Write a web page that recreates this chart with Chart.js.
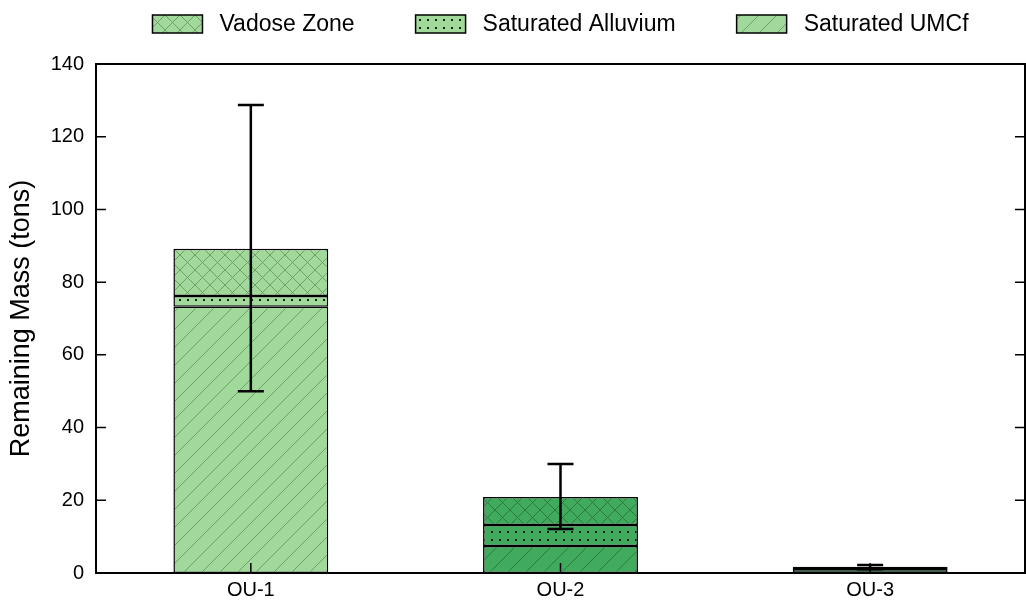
<!DOCTYPE html>
<html>
<head>
<meta charset="utf-8">
<script src="https://cdn.jsdelivr.net/npm/chart.js@4"></script>
<style>
    html, body { margin: 0; padding: 0; background: #fff; }
</style>
</head>
<body>
<canvas id="myChart" width="1026" height="600"></canvas>
<script>
// data
const categories = ['OU-1', 'OU-2', 'OU-3'];
const seriesNames = ['Vadose Zone', 'Saturated Alluvium', 'Saturated UMCf'];
const vadoseZone = [13.0, 7.7, 0.3];
const saturatedAlluvium = [3.0, 5.8, 0.3];
const saturatedUmcf = [73.2, 7.4, 1.1];
const errorLow = [50.0, 12.1, 1.0];
const errorHigh = [128.7, 30.0, 2.2];
const yTickValues = [0, 20, 40, 60, 80, 100, 120, 140];

const FONT = '"Liberation Sans", Arial, sans-serif';

// fill colour and hatch colour per bar
const barColors = ['#a1d99b', '#41ab5d', '#00441b'];
const hatchColors = ['#6f9f6b', '#2b7a42', '#00441b'];

/**
 * ハッチングのパターンを作ります。
 */
const makePattern = (base, line, kind) => {
    const size = kind === 'dots' ? 8 : (kind === 'cross' ? 15 : 18);
    const c = document.createElement('canvas');
    c.width = size;
    c.height = size;
    const g = c.getContext('2d');
    g.fillStyle = base;
    g.fillRect(0, 0, size, size);
    g.strokeStyle = line;
    g.lineWidth = 1;
    if (kind === 'diag' || kind === 'cross') {
        [-size, 0, size].forEach((off) => {
            g.beginPath();
            g.moveTo(off, size);
            g.lineTo(off + size, 0);
            g.stroke();
        });
    }
    if (kind === 'cross') {
        [-size, 0, size].forEach((off) => {
            g.beginPath();
            g.moveTo(off, 0);
            g.lineTo(off + size, size);
            g.stroke();
        });
    }
    if (kind === 'dots') {
        g.fillStyle = 'rgba(0,0,0,0.85)';
        g.fillRect(3, 3, 2, 2);
    }
    return g.createPattern(c, 'repeat');
};

const patternsFor = (kind) => barColors.map((col, i) => makePattern(col, hatchColors[i], kind));

const seriesKinds = ['cross', 'dots', 'diag'];
const seriesValues = [vadoseZone, saturatedAlluvium, saturatedUmcf];

// bottom of the stack first
const datasets = [2, 1, 0].map((i) => ({
    label: seriesNames[i],
    data: seriesValues[i],
    backgroundColor: patternsFor(seriesKinds[i]),
    borderColor: '#000',
    borderWidth: 1.5,
    borderSkipped: false,
}));

const framePlugin = {
    id: 'frame',
    afterDatasetsDraw(chart) {
        const ctx = chart.ctx;
        const x = chart.scales.x;
        const y = chart.scales.y;
        const area = chart.chartArea;
        ctx.save();
        // error bars
        ctx.strokeStyle = '#000';
        ctx.lineWidth = 2.5;
        categories.forEach((cat, i) => {
            const cx = x.getPixelForValue(i);
            const yl = y.getPixelForValue(errorLow[i]);
            const yh = y.getPixelForValue(errorHigh[i]);
            ctx.beginPath();
            ctx.moveTo(cx, yl);
            ctx.lineTo(cx, yh);
            ctx.moveTo(cx - 13, yl);
            ctx.lineTo(cx + 13, yl);
            ctx.moveTo(cx - 13, yh);
            ctx.lineTo(cx + 13, yh);
            ctx.stroke();
        });
        // inner ticks
        ctx.lineWidth = 1.5;
        ctx.beginPath();
        yTickValues.forEach((v) => {
            const py = y.getPixelForValue(v);
            ctx.moveTo(area.left, py);
            ctx.lineTo(area.left + 10, py);
            ctx.moveTo(area.right, py);
            ctx.lineTo(area.right - 10, py);
        });
        categories.forEach((cat, i) => {
            const px = x.getPixelForValue(i);
            ctx.moveTo(px, area.bottom);
            ctx.lineTo(px, area.bottom - 10);
        });
        ctx.stroke();
        // frame
        ctx.lineWidth = 2;
        ctx.strokeRect(area.left, area.top, area.right - area.left, area.bottom - area.top);
        ctx.restore();
    },
    afterDraw(chart) {
        // legend
        const ctx = chart.ctx;
        ctx.save();
        ctx.font = '23px ' + FONT;
        ctx.textBaseline = 'middle';
        ctx.fillStyle = '#000';
        const boxW = 50;
        const boxH = 18;
        const gap = 17;
        const itemGap = 61;
        const widths = seriesNames.map((n) => boxW + gap + ctx.measureText(n).width);
        const total = widths.reduce((a, b) => a + b, 0) + itemGap * (widths.length - 1);
        const area = chart.chartArea;
        let px = (area.left + area.right) / 2 - total / 2;
        const cy = 24;
        seriesNames.forEach((name, i) => {
            ctx.fillStyle = makePattern(barColors[0], hatchColors[0], seriesKinds[i]);
            ctx.fillRect(px, cy - boxH / 2, boxW, boxH);
            ctx.strokeStyle = '#000';
            ctx.lineWidth = 1.5;
            ctx.strokeRect(px, cy - boxH / 2, boxW, boxH);
            ctx.fillStyle = '#000';
            ctx.fillText(name, px + boxW + gap, cy + 1);
            px += widths[i] + itemGap;
        });
        ctx.restore();
    },
};

const config = {
    type: 'bar',
    data: {
        labels: categories,
        datasets: datasets,
    },
    options: {
        responsive: false,
        animation: false,
        devicePixelRatio: 1,
        barPercentage: 0.5,
        categoryPercentage: 1.0,
        layout: {
            padding: { top: 64, right: 1, left: 0, bottom: 0 },
        },
        plugins: {
            legend: { display: false },
            tooltip: { enabled: false },
        },
        scales: {
            x: {
                stacked: true,
                grid: { display: false, drawTicks: false },
                border: { display: false },
                ticks: {
                    color: '#000',
                    font: { family: FONT, size: 20 },
                    padding: 5,
                },
                afterFit: (scale) => { scale.height = 27; },
            },
            y: {
                stacked: true,
                min: 0,
                max: 140,
                grid: { display: false, drawTicks: false },
                border: { display: false },
                afterBuildTicks: (scale) => {
                    scale.ticks = yTickValues.map((v) => ({ value: v }));
                },
                ticks: {
                    color: '#000',
                    font: { family: FONT, size: 20 },
                    padding: 12,
                },
                title: {
                    display: true,
                    text: 'Remaining Mass (tons)',
                    color: '#000',
                    font: { family: FONT, size: 27 },
                    padding: { top: 5, bottom: 0 },
                },
                afterFit: (scale) => { scale.width = 96; },
            },
        },
    },
    plugins: [framePlugin],
};

const myChart = new Chart(document.getElementById('myChart'), config);
</script>
</body>
</html>
